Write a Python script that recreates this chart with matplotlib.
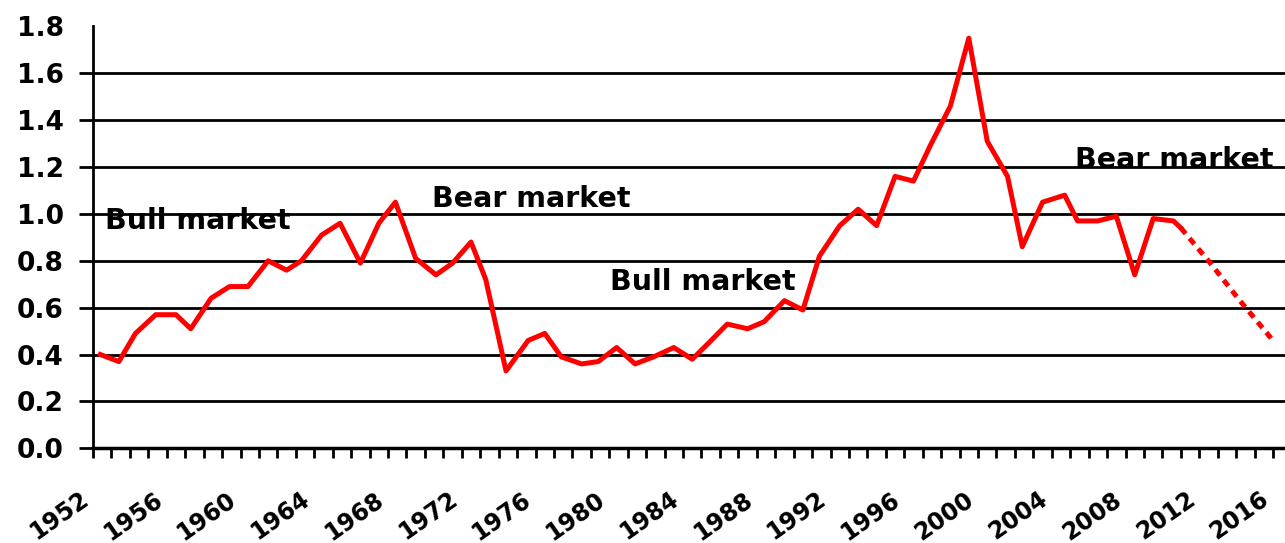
import numpy as np
import matplotlib
matplotlib.use("Agg")
import matplotlib.pyplot as plt
from matplotlib.ticker import MultipleLocator

plt.rcParams["font.family"] = ["DejaVu Sans"]
plt.rcParams["font.weight"] = "bold"

# --- data (year, ratio) ---
years = [1952.4, 1953.4, 1954.3, 1955.4, 1956.5, 1957.3, 1958.4, 1959.4, 1960.4,
         1961.5, 1962.5, 1963.3, 1964.4, 1965.4, 1966.5, 1967.5, 1968.4, 1969.5,
         1970.6, 1971.5, 1972.5, 1973.3, 1974.4, 1975.6, 1976.5, 1977.4, 1978.5,
         1979.4, 1980.4, 1981.4, 1982.4, 1983.5, 1984.5, 1985.4, 1986.4, 1987.5,
         1988.4, 1989.5, 1990.5, 1991.4, 1992.5, 1993.5, 1994.5, 1995.5, 1996.5,
         1997.4, 1998.5, 1999.5, 2000.5, 2001.6, 2002.4, 2003.5, 2004.7, 2005.4,
         2006.5, 2007.5, 2008.5, 2009.5, 2010.6, 2011.0]
values = [0.40, 0.37, 0.49, 0.57, 0.57, 0.51, 0.64, 0.69, 0.69,
          0.80, 0.76, 0.80, 0.91, 0.96, 0.79, 0.96, 1.05, 0.81,
          0.74, 0.79, 0.88, 0.72, 0.33, 0.46, 0.49, 0.39, 0.36,
          0.37, 0.43, 0.36, 0.39, 0.43, 0.38, 0.45, 0.53, 0.51,
          0.54, 0.63, 0.59, 0.82, 0.95, 1.02, 0.95, 1.16, 1.14,
          1.29, 1.46, 1.75, 1.31, 1.16, 0.86, 1.05, 1.08, 0.97,
          0.97, 0.99, 0.74, 0.98, 0.97, 0.94]

# projected part (dashed)
proj_years = [2011.0, 2012.6, 2014.2, 2016.0]
proj_values = [0.94, 0.79, 0.63, 0.46]

labels = ["Bull market", "Bear market", "Bull market", "Bear market"]
label_x = [1952.65, 1970.4, 1980.05, 2005.25]
label_y = [0.935, 1.03, 0.675, 1.196]

year_ticks = list(range(1952, 2017, 4))

fig = plt.figure(figsize=(12.85, 5.43), dpi=100)
ax = fig.add_axes([0.0724, 0.1744, 0.9276, 0.777])

# gridlines 0.2 .. 1.6 (none on top)
for yv in np.arange(0.2, 1.61, 0.2):
    ax.axhline(yv, color="black", lw=2, zorder=2)

for txt, tx, ty in zip(labels, label_x, label_y):
    ax.text(tx, ty, txt, fontsize=20.5, fontweight="bold", va="baseline", ha="left",
            zorder=1)

ax.plot(years, values, "-", color="red", lw=3.6, zorder=3)
ax.plot(proj_years, proj_values, color="red", lw=3.6, zorder=3,
        linestyle=(0, (1.5, 1.2)))

ax.set_xlim(1952, 2016.65)
ax.set_ylim(0, 1.8)
ax.yaxis.set_major_locator(MultipleLocator(0.2))
ax.set_yticks(np.arange(0, 1.81, 0.2))
ax.set_yticklabels([f"{v:.1f}" for v in np.arange(0, 1.81, 0.2)])
ax.set_xticks(year_ticks)
ax.set_xticklabels([str(y) for y in year_ticks], rotation=35, ha="right")
ax.xaxis.set_minor_locator(MultipleLocator(1))
ax.tick_params(axis="y", labelsize=19, width=2, length=10, pad=11, direction="out")
ax.tick_params(axis="x", which="both", width=2, length=7, direction="out")
ax.tick_params(axis="x", which="major", labelsize=17, pad=21)
ax.yaxis.get_major_ticks()[-1].tick1line.set_visible(False)

for s in ["top", "right"]:
    ax.spines[s].set_visible(False)
ax.spines["left"].set_linewidth(2)
ax.spines["bottom"].set_linewidth(2.5)

fig.savefig("out.png", dpi=100)
